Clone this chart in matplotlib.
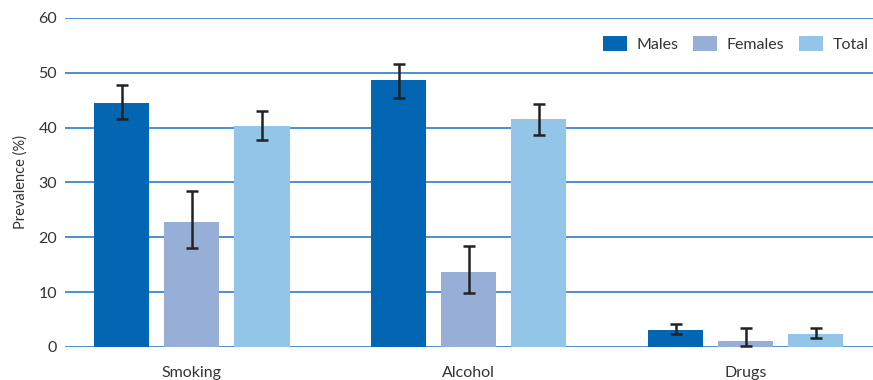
import matplotlib.pyplot as plt
import numpy as np

plt.rcParams['font.family'] = ['Lato', 'DejaVu Sans']

# prevalence (%) with lower / upper confidence limits
categories = ['Smoking', 'Alcohol', 'Drugs']
series = ['Males', 'Females', 'Total']
values = {
    'Males': [44.5, 48.6, 3.0],
    'Females': [22.8, 13.7, 1.0],
    'Total': [40.2, 41.6, 2.3],
}
lower = {
    'Males': [41.6, 45.4, 2.3],
    'Females': [18.0, 9.9, 0.2],
    'Total': [37.8, 38.7, 1.6],
}
upper = {
    'Males': [47.7, 51.6, 4.2],
    'Females': [28.4, 18.4, 3.4],
    'Total': [43.0, 44.3, 3.5],
}
colors = {'Males': '#0366b3', 'Females': '#97afd7', 'Total': '#93c5e9'}
yticks = [0, 10, 20, 30, 40, 50, 60]

fig = plt.figure(figsize=(8.73, 3.8), dpi=100)
ax = fig.add_axes([0.075, 0.087, 0.925, 0.866])

x = np.arange(len(categories))
width = 0.2
step = 0.253
for i, s in enumerate(series):
    v = np.array(values[s])
    err = [v - np.array(lower[s]), np.array(upper[s]) - v]
    ax.bar(x + (i - 1) * step, v, width, color=colors[s], label=s, zorder=3)
    ax.errorbar(x + (i - 1) * step, v, yerr=err, fmt='none', ecolor='#222222',
                elinewidth=1.8, capsize=4, capthick=1.8, zorder=4)

ax.set_ylim(0, 60)
ax.set_xlim(-0.456, 2.46)
ax.set_yticks(yticks)
ax.set_xticks(x)
ax.set_xticklabels(categories)
ax.tick_params(axis='both', length=0, labelsize=11.5, colors='#333333')
ax.tick_params(axis='x', pad=14)
ax.tick_params(axis='y', pad=6)
ax.grid(axis='y', color='#3f87c9', linewidth=1.3, zorder=0)
for sp in ax.spines.values():
    sp.set_visible(False)

ax.set_ylabel('Prevalence (%)', fontsize=10.5, color='#333333', labelpad=8)

ax.legend(loc='upper right', bbox_to_anchor=(1.012, 0.99), ncol=3, frameon=False,
          fontsize=11.5, handlelength=1.5, handleheight=1.1, columnspacing=0.9,
          handletextpad=0.6, labelcolor='#333333')

fig.savefig('out.png', dpi=100)
